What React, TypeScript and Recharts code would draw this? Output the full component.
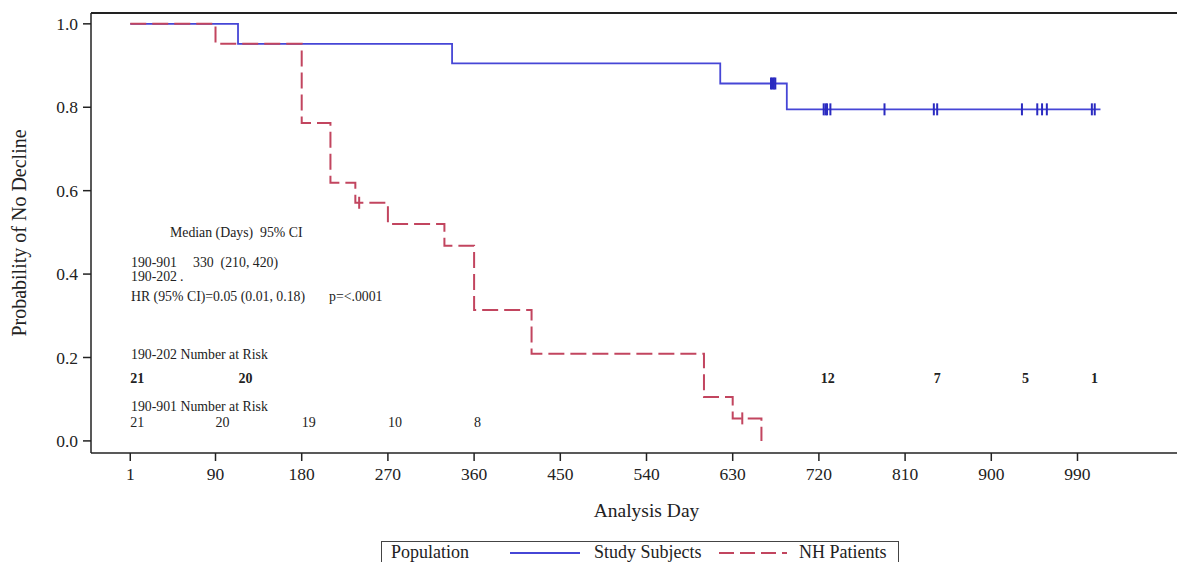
import { ComposedChart, Line, Scatter, XAxis, YAxis, ReferenceLine } from 'recharts';

const FONT = "'Liberation Serif', 'Times New Roman', serif";
const BLUE = '#4646d6';
const BLUE_DARK = '#2a2ac0';
const RED = '#c2455f';
const INK = '#222';

const dayTicks = [1, 90, 180, 270, 360, 450, 540, 630, 720, 810, 900, 990];
const probTicks = [0, 0.2, 0.4, 0.6, 0.8, 1.0];
const Y_MIN = -0.029;
const Y_MAX = 1.026;

// Study Subjects (190-202): step points and censored days
const studyDays = [1, 113.5, 337, 617, 686.5, 1014];
const studySurv = [1.0, 0.952, 0.905, 0.857, 0.795, 0.795];
const studyCensorDays = [670, 671.5, 673, 674.5, 725, 727, 728.5, 732, 788.5, 840, 843.5, 932, 948, 953, 958, 1005, 1008];

// NH Patients (190-901)
const nhDays = [1, 90, 180, 210, 236, 270, 329, 360, 420, 600, 630, 660];
const nhSurv = [1.0, 0.952, 0.762, 0.619, 0.571, 0.52, 0.468, 0.314, 0.209, 0.105, 0.054, 0];
const nhCensorDays = [240, 640];

// number at risk rows
const studyRiskDays = [1, 114, 722, 840, 932, 1004];
const studyRiskN = [21, 20, 12, 7, 5, 1];
const nhRiskDays = [1, 90, 180, 270, 360];
const nhRiskN = [21, 20, 19, 10, 8];

const STUDY_ROW = 0.149;
const NH_ROW = 0.043;

const stepValue = (days: number[], surv: number[], d: number) => {
  let v = surv[0];
  days.forEach((x, i) => {
    if (x <= d) v = surv[i];
  });
  return v;
};

const studyLine = studyDays.map((day, i) => ({ day, surv: studySurv[i] }));
const nhLine = nhDays.map((day, i) => ({ day, surv: nhSurv[i] }));
const studyCensor = studyCensorDays.map((day) => ({ day, surv: stepValue(studyDays, studySurv, day) }));
const nhCensor = nhCensorDays.map((day) => ({ day, surv: stepValue(nhDays, nhSurv, day) }));
const studyRisk = studyRiskDays.map((day, i) => ({ day, surv: STUDY_ROW, n: studyRiskN[i] }));
const nhRisk = nhRiskDays.map((day, i) => ({ day, surv: NH_ROW, n: nhRiskN[i] }));

const censorMark = (color: string) => (props: any) => (
  <line x1={props.cx} x2={props.cx} y1={props.cy - 6} y2={props.cy + 6} stroke={color} strokeWidth={2} />
);

const riskText = (bold: boolean) => (props: any) => (
  <text
    x={props.cx}
    y={props.cy}
    dominantBaseline="central"
    fontFamily={FONT}
    fontSize={14}
    fontWeight={bold ? 'bold' : 'normal'}
    fill={INK}
  >
    {props.payload.n}
  </text>
);

const YTitle = (props: any) => {
  const vb = props.viewBox || { x: 0, y: 13, width: 91, height: 440 };
  const cx = vb.x + 19;
  const cy = vb.y + vb.height / 2;
  return (
    <text
      x={cx}
      y={cy}
      transform={`rotate(-90 ${cx} ${cy})`}
      textAnchor="middle"
      dominantBaseline="central"
      fontFamily={FONT}
      fontSize={20}
      fill={INK}
    >
      Probability of No Decline
    </text>
  );
};

const note = (top: number, left: number, text: string) => (
  <div
    style={{
      position: 'absolute',
      top,
      left,
      fontFamily: FONT,
      fontSize: 13.8,
      lineHeight: '14px',
      color: INK,
      whiteSpace: 'pre',
    }}
  >
    {text}
  </div>
);

const axisStyle = { stroke: INK, strokeWidth: 1.5 };

export default function App() {
  return (
    <div
      style={{
        position: 'fixed',
        left: 0,
        top: 0,
        width: 1177,
        height: 562,
        overflow: 'hidden',
        background: '#fff',
      }}
    >
      <ComposedChart width={1202} height={533} margin={{ top: 13, right: 0, bottom: 0, left: 0 }}>
        <XAxis
          dataKey="day"
          type="number"
          domain={[-40, 1120]}
          ticks={dayTicks}
          allowDataOverflow
          height={80}
          tickSize={8}
          tickMargin={7}
          axisLine={axisStyle}
          tickLine={axisStyle}
          tick={{ fontFamily: FONT, fontSize: 17.5, fill: INK }}
          label={{ value: 'Analysis Day', position: 'insideBottom', offset: 16, fontFamily: FONT, fontSize: 19.5, fill: INK }}
        />
        <YAxis
          dataKey="surv"
          type="number"
          domain={[Y_MIN, Y_MAX]}
          ticks={probTicks}
          allowDataOverflow
          width={91}
          tickSize={8}
          tickMargin={5}
          tickFormatter={(v: number) => v.toFixed(1)}
          axisLine={axisStyle}
          tickLine={axisStyle}
          tick={{ fontFamily: FONT, fontSize: 17.5, fill: INK }}
          label={<YTitle />}
        />
        <ReferenceLine y={Y_MAX} stroke={INK} strokeWidth={2} ifOverflow="visible" />
        <Line
          data={studyLine}
          dataKey="surv"
          name="Study Subjects"
          type="stepAfter"
          stroke={BLUE}
          strokeWidth={1.8}
          dot={false}
          isAnimationActive={false}
        />
        <Line
          data={nhLine}
          dataKey="surv"
          name="NH Patients"
          type="stepAfter"
          stroke={RED}
          strokeWidth={2}
          strokeDasharray="16 6"
          dot={false}
          isAnimationActive={false}
        />
        <Scatter data={studyCensor} dataKey="surv" shape={censorMark(BLUE_DARK)} isAnimationActive={false} />
        <Scatter data={nhCensor} dataKey="surv" shape={censorMark(RED)} isAnimationActive={false} />
        <Scatter data={studyRisk} dataKey="surv" shape={riskText(true)} isAnimationActive={false} />
        <Scatter data={nhRisk} dataKey="surv" shape={riskText(false)} isAnimationActive={false} />
      </ComposedChart>

      {note(226, 170, 'Median (Days)  95% CI')}
      {note(256, 131, '190-901')}
      {note(256, 193, '330  (210, 420)')}
      {note(270, 131, '190-202')}
      {note(270, 180, '.')}
      {note(290, 131, 'HR (95% CI)=0.05 (0.01, 0.18)')}
      {note(290, 329, 'p=<.0001')}
      {note(348, 131, '190-202 Number at Risk')}
      {note(400, 131, '190-901 Number at Risk')}

      <div
        style={{
          position: 'absolute',
          left: 381,
          top: 541,
          width: 516,
          height: 34,
          border: '1.5px solid #444',
          fontFamily: FONT,
          fontSize: 18,
          lineHeight: '18px',
          color: INK,
        }}
      >
        <span style={{ position: 'absolute', left: 9, top: 1 }}>Population</span>
        <svg style={{ position: 'absolute', left: 128, top: 0 }} width={72} height={30}>
          <line x1={0} x2={70} y1={11} y2={11} stroke={BLUE} strokeWidth={2} />
        </svg>
        <span style={{ position: 'absolute', left: 212, top: 1 }}>Study Subjects</span>
        <svg style={{ position: 'absolute', left: 337, top: 0 }} width={72} height={30}>
          <line x1={0} x2={68} y1={11} y2={11} stroke={RED} strokeWidth={2} strokeDasharray="15 6" />
        </svg>
        <span style={{ position: 'absolute', left: 417, top: 1 }}>NH Patients</span>
      </div>
    </div>
  );
}
